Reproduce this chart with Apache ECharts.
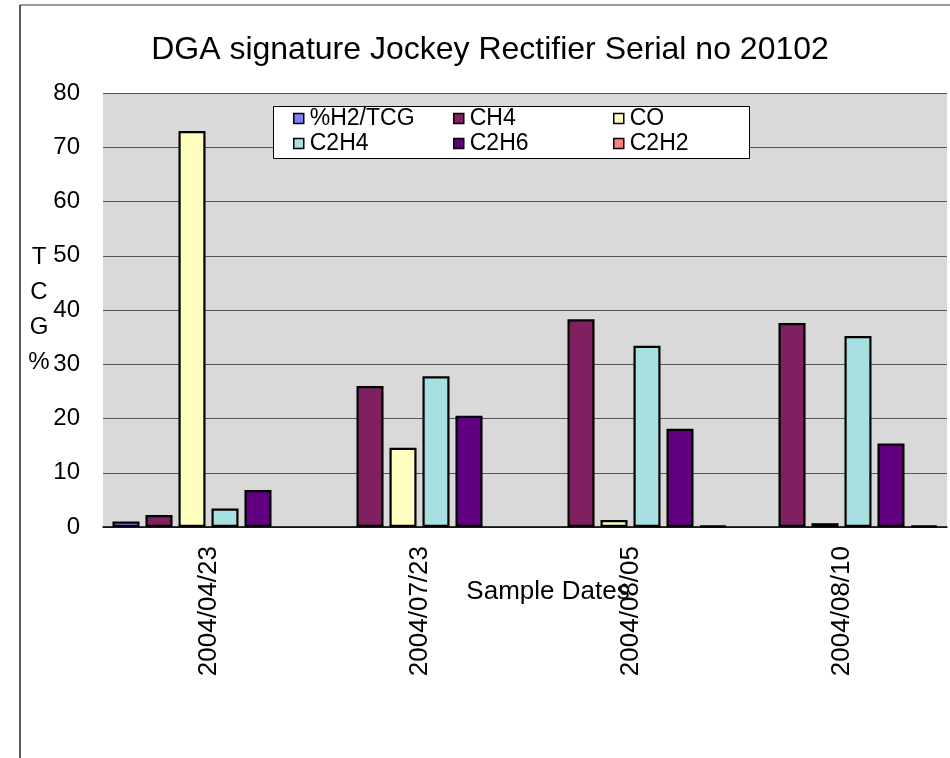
<!DOCTYPE html>
<html>
<head>
<meta charset="utf-8">
<style>
  html, body { margin: 0; padding: 0; background: #ffffff; }
  #chart { width: 950px; height: 758px; }
</style>
<script src="https://cdn.jsdelivr.net/npm/echarts@6/dist/echarts.min.js"></script>
</head>
<body>
<div id="chart"></div>
<script>
// Sample dates (categories) and gas percentages of total combustible gas
const sampleDates = ['2004/04/23', '2004/07/23', '2004/08/05', '2004/08/10'];
const h2Values   = [1.0, null, null, null];
const ch4Values  = [2.2, 26.0, 38.3, 37.6];
const coValues   = [73.0, 14.6, 1.3, 0.7];
const c2h4Values = [3.4, 27.8, 33.4, 35.2];
const c2h6Values = [6.8, 20.5, 18.1, 15.4];
const c2h2Values = [null, null, 0.2, 0.2];
const yTicks = { min: 0, max: 80, interval: 10 };

const gasSeries = [
  { name: '%H2/TCG', data: h2Values,   color: '#8080FF' },
  { name: 'CH4',     data: ch4Values,  color: '#802060' },
  { name: 'CO',      data: coValues,   color: '#FFFFC0' },
  { name: 'C2H4',    data: c2h4Values, color: '#A6E0E0' },
  { name: 'C2H6',    data: c2h6Values, color: '#600080' },
  { name: 'C2H2',    data: c2h2Values, color: '#FF8080' }
];

const FONT = 'Arial, "Liberation Sans", sans-serif';

const chart = echarts.init(document.getElementById('chart'), null, { renderer: 'canvas' });

// Three legend columns, two entries each
function legendColumn(left, names) {
  return {
    orient: 'vertical',
    left: left,
    top: 107,
    padding: 0,
    itemGap: 2,
    itemWidth: 10,
    itemHeight: 10,
    z: 6,
    data: names.map(n => ({ name: n, icon: 'rect' })),
    textStyle: { fontFamily: FONT, fontSize: 23, color: '#000', padding: [0, 0, 0, 1] },
    itemStyle: { borderColor: '#000', borderWidth: 1.5 },
    selectedMode: false
  };
}

const option = {
  backgroundColor: '#ffffff',
  animation: false,
  title: {
    text: 'DGA signature Jockey Rectifier Serial no 20102',
    left: 485,
    top: 29,
    textAlign: 'center',
    textStyle: { fontFamily: FONT, fontSize: 32, fontWeight: 'normal', color: '#000' }
  },
  graphic: [
    // outer chart frame
    { type: 'line', shape: { x1: 20, y1: 5, x2: 950, y2: 5 }, style: { stroke: '#777', lineWidth: 1.5 }, z: 1 },
    { type: 'line', shape: { x1: 20, y1: 5, x2: 20, y2: 758 }, style: { stroke: '#222', lineWidth: 1.5 }, z: 1 },
    // legend box
    { type: 'rect', shape: { x: 273.5, y: 106.5, width: 476, height: 52 },
      style: { fill: '#ffffff', stroke: '#000', lineWidth: 1 }, z: 5 }
  ],
  legend: [
    legendColumn(293, ['%H2/TCG', 'C2H4']),
    legendColumn(453, ['CH4', 'C2H6']),
    legendColumn(613, ['CO', 'C2H2'])
  ],
  grid: {
    left: 103, right: 3, top: 93, bottom: 231,
    show: true, backgroundColor: '#D9D9D9', borderWidth: 0
  },
  xAxis: {
    type: 'category',
    data: sampleDates,
    name: 'Sample Dates',
    nameLocation: 'middle',
    nameGap: 52,
    nameMoveOverlap: false,
    nameTextStyle: { fontFamily: FONT, fontSize: 26, color: '#000', padding: [0, 0, 0, 46] },
    axisLine: { show: true, lineStyle: { color: '#000', width: 1.5 } },
    axisTick: { show: false },
    axisLabel: { rotate: 90, margin: 19, fontFamily: FONT, fontSize: 26, color: '#000' },
    splitLine: { show: false }
  },
  yAxis: {
    type: 'value',
    min: yTicks.min,
    max: yTicks.max,
    interval: yTicks.interval,
    name: 'T\nC\nG\n%',
    nameLocation: 'middle',
    nameRotate: 0,
    nameGap: 64,
    nameMoveOverlap: false,
    nameTextStyle: { fontFamily: FONT, fontSize: 24, color: '#000', lineHeight: 35, align: 'center', padding: [18, 0, 0, 0] },
    axisLine: { show: false },
    axisTick: { show: false },
    axisLabel: { margin: 23, fontFamily: FONT, fontSize: 24, color: '#000' },
    splitLine: { show: true, lineStyle: { color: '#555', width: 1 } }
  },
  series: gasSeries.map(s => ({
    name: s.name,
    type: 'bar',
    data: s.data,
    barGap: '22%',
    barCategoryGap: '9%',
    itemStyle: { color: s.color, borderColor: '#000', borderWidth: 2.2 },
    emphasis: { disabled: true }
  }))
};

chart.setOption(option);
</script>
</body>
</html>
